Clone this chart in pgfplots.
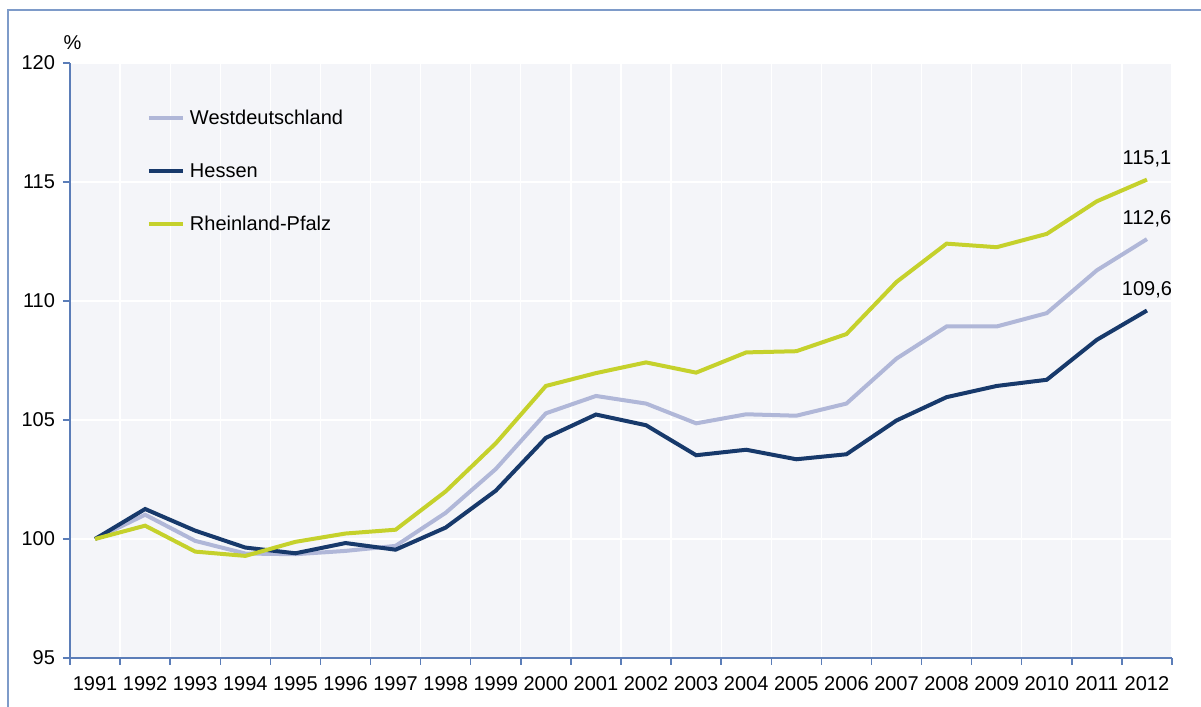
\documentclass[border=0pt]{standalone}
\usepackage{fontspec}
\setmainfont{Liberation Sans}
\usepackage{pgfplots}
\pgfplotsset{compat=1.18}
\definecolor{wd}{HTML}{B0B7D8}
\definecolor{he}{HTML}{17396B}
\definecolor{rp}{HTML}{C5D12C}
\definecolor{bgcol}{HTML}{F4F5F9}
\definecolor{axiscol}{HTML}{5B7DB8}
\definecolor{framecol}{HTML}{7E9BC9}
\begin{document}
\begin{tikzpicture}[font=\fontsize{10}{12}\selectfont]
\useasboundingbox (-35pt,-24.5pt) rectangle (565.5pt,329pt);
\draw[framecol, line width=1pt] (-31pt,-40pt) -- (-31pt,324pt) -- (580pt,324pt);
\begin{axis}[
  at={(0,0)}, anchor=south west,
  scale only axis, width=551pt, height=297.5pt,
  xmin=-0.5, xmax=21.5, ymin=95, ymax=120,
  clip mode=individual,
  ytick={95,100,...,120},
  xtick={0,...,21},
  xticklabels={1991,1992,1993,1994,1995,1996,1997,1998,1999,2000,2001,2002,2003,2004,2005,2006,2007,2008,2009,2010,2011,2012},
  minor xtick={-0.5,0.5,...,21.5},
  major x tick style={draw=none},
  xminorgrids=true, ymajorgrids=true,
  grid style={white, line width=0.6pt},
  minor grid style={white, line width=0.6pt},
  tick align=outside,
  major tick length=3.5pt, minor tick length=3.5pt,
  axis lines*=left,
  axis line style={axiscol, line width=0.75pt},
  tick style={axiscol, line width=0.75pt},
  axis background/.style={fill=bgcol},
  /pgf/number format/assume math mode=true,
  ticklabel style={font=\fontsize{10}{12}\selectfont},
  xticklabel style={yshift=-2pt},
  yticklabel style={xshift=-0.5pt},
  legend style={at={(rel axis cs:0.0695,0.921)}, anchor=north west, draw=none, fill=none,
    row sep=19.3pt, column sep=2.5pt, inner sep=0pt,
    nodes={inner sep=0pt, text height=7.2pt, text depth=0pt}},
  legend cell align=left,
  legend image code/.code={\draw[#1] (0pt,0pt) -- (17pt,0pt);},
]
\addplot[wd, line width=2pt] coordinates {
(0,100) (1,101.02) (2,99.92) (3,99.39) (4,99.36) (5,99.5) (6,99.71) (7,101.1)
(8,102.94) (9,105.28) (10,106.01) (11,105.69) (12,104.86) (13,105.24) (14,105.18)
(15,105.69) (16,107.58) (17,108.93) (18,108.93) (19,109.49) (20,111.29) (21,112.6)};
\addlegendentry{Westdeutschland}
\addplot[he, line width=2pt] coordinates {
(0,100) (1,101.26) (2,100.35) (3,99.64) (4,99.4) (5,99.83) (6,99.55) (7,100.48)
(8,102.03) (9,104.25) (10,105.23) (11,104.78) (12,103.52) (13,103.75) (14,103.35)
(15,103.56) (16,104.98) (17,105.96) (18,106.43) (19,106.69) (20,108.37) (21,109.6)};
\addlegendentry{Hessen}
\addplot[rp, line width=2pt] coordinates {
(0,100) (1,100.56) (2,99.47) (3,99.29) (4,99.88) (5,100.23) (6,100.39) (7,102.0)
(8,104.02) (9,106.43) (10,106.97) (11,107.42) (12,106.99) (13,107.84) (14,107.89)
(15,108.61) (16,110.8) (17,112.41) (18,112.26) (19,112.82) (20,114.19) (21,115.1)};
\addlegendentry{Rheinland-Pfalz}
\node[anchor=base, yshift=7.5pt] at (axis cs:21,115.1) {115,1};
\node[anchor=base, yshift=7.5pt] at (axis cs:21,112.6) {112,6};
\node[anchor=base, yshift=7.5pt] at (axis cs:21,109.6) {109,6};
\node at (rel axis cs:0,1) [xshift=1.25pt, yshift=10pt] {\%};
\end{axis}
\end{tikzpicture}
\end{document}
